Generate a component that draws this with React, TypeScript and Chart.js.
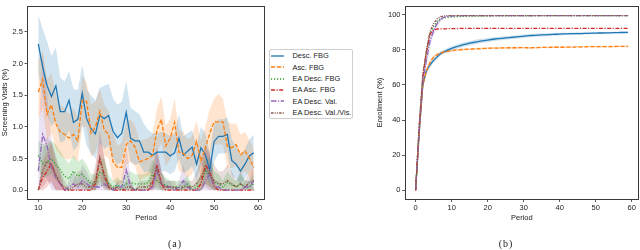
import React, { useEffect, useRef } from "react";
import { Chart, registerables } from "chart.js";

Chart.register(...registerables);

const FONT = "'Liberation Sans', Arial, Helvetica, sans-serif";

// ---------- shared series info ----------
const SERIES_NAMES = ["Desc. FBG", "Asc. FBG", "EA Desc. FBG", "EA Asc. FBG", "EA Desc. Val.", "EA Desc. Val./Vis."];
const COLORS = ["#1f77b4", "#ff7f0e", "#2ca02c", "#d62728", "#9467bd", "#8c564b"];
const BANDS = [
  "rgba(31,119,180,0.2)",
  "rgba(255,127,14,0.2)",
  "rgba(44,160,44,0.2)",
  "rgba(214,39,40,0.2)",
  "rgba(148,103,189,0.2)",
  "rgba(140,86,75,0.2)",
];
const DASHES: number[][] = [[], [4.2, 1.8], [1.2, 1.8], [4, 1.5, 1.2, 1.5], [5.5, 1.5, 1.2, 1.5], [2.5, 1.2, 1, 1.2, 1, 1.2]];

// ---------- (a) Screening visits, periods 10..59 ----------
const LEFT_PERIODS = Array.from({ length: 50 }, (_, i) => 10 + i);
const LEFT_X_TICKS = [10, 20, 30, 40, 50, 60];
const LEFT_Y_TICKS = [0, 0.5, 1.0, 1.5, 2.0, 2.5];

const descFbg = [2.31, 1.95, 1.65, 1.48, 1.65, 1.24, 1.24, 1.42, 1.07, 1.12, 1.53, 1.13, 0.97, 0.89, 1.18, 1.13, 1.18, 0.93, 0.83, 0.9, 1.23, 0.82, 0.78, 0.78, 0.6, 0.6, 0.55, 0.6, 0.6, 0.6, 0.54, 0.59, 0.82, 0.55, 0.62, 0.68, 0.41, 0.67, 0.56, 0.32, 0.77, 0.85, 0.85, 0.88, 0.47, 0.41, 0.3, 0.41, 0.54, 0.59];
const descFbgHi = [2.77, 2.55, 2.35, 2.12, 2.25, 1.78, 1.72, 1.88, 1.6, 1.58, 1.98, 1.6, 1.5, 1.42, 1.62, 1.65, 1.68, 1.45, 1.35, 1.4, 1.72, 1.3, 1.25, 1.2, 1.05, 0.95, 0.9, 0.9, 0.92, 0.9, 0.85, 0.9, 1.2, 0.85, 0.9, 0.95, 0.7, 1.0, 0.9, 0.6, 1.05, 1.12, 1.12, 1.15, 0.8, 0.7, 0.55, 0.65, 0.8, 0.88];
const descFbgLo = [1.85, 1.5, 1.2, 1.0, 1.1, 0.75, 0.78, 0.95, 0.62, 0.7, 1.05, 0.7, 0.58, 0.5, 0.75, 0.65, 0.7, 0.5, 0.4, 0.45, 0.8, 0.45, 0.4, 0.42, 0.28, 0.3, 0.25, 0.3, 0.3, 0.3, 0.25, 0.3, 0.5, 0.28, 0.3, 0.38, 0.15, 0.4, 0.3, 0.08, 0.45, 0.58, 0.58, 0.6, 0.22, 0.18, 0.1, 0.18, 0.3, 0.35];

const ascFbg = [1.55, 1.75, 1.2, 1.35, 1.05, 0.92, 0.88, 0.82, 0.88, 0.78, 1.42, 1.4, 0.9, 1.0, 1.25, 0.95, 0.88, 0.45, 0.36, 0.36, 0.72, 0.78, 0.68, 0.45, 0.47, 0.5, 0.55, 0.95, 1.12, 0.7, 0.82, 1.07, 0.6, 0.58, 0.5, 0.55, 0.77, 0.46, 0.67, 0.9, 1.08, 1.08, 1.08, 0.69, 0.67, 0.72, 0.56, 0.62, 0.51, 0.36];
const ascFbgHi = [2.05, 2.2, 1.75, 1.85, 1.5, 1.35, 1.3, 1.2, 1.3, 1.15, 1.8, 1.7, 1.35, 1.4, 1.6, 1.35, 1.25, 0.9, 0.7, 0.75, 1.08, 1.12, 1.02, 0.78, 0.8, 0.82, 0.88, 1.3, 1.48, 1.02, 1.12, 1.45, 0.95, 0.92, 0.8, 0.85, 1.1, 0.78, 1.0, 1.28, 1.45, 1.52, 1.45, 1.08, 1.05, 1.05, 0.88, 0.92, 0.8, 0.65];
const ascFbgLo = [1.12, 1.3, 0.8, 0.9, 0.65, 0.55, 0.5, 0.48, 0.52, 0.45, 1.0, 1.0, 0.52, 0.6, 0.85, 0.55, 0.5, 0.15, 0.1, 0.1, 0.4, 0.45, 0.38, 0.15, 0.2, 0.22, 0.25, 0.6, 0.75, 0.38, 0.48, 0.72, 0.3, 0.28, 0.2, 0.25, 0.45, 0.18, 0.35, 0.55, 0.72, 0.72, 0.72, 0.35, 0.35, 0.38, 0.25, 0.3, 0.22, 0.1];

const eaDescFbg = [0.55, 0.42, 0.45, 0.5, 0.4, 0.32, 0.22, 0.18, 0.3, 0.22, 0.25, 0.18, 0.1, 0.1, 0.28, 0.25, 0.1, 0.05, 0.08, 0.05, 0.1, 0.12, 0.1, 0.1, 0.1, 0.12, 0.25, 0.15, 0.1, 0.08, 0.05, 0.05, 0.05, 0.05, 0.1, 0.0, 0.05, 0.1, 0.3, 0.25, 0.12, 0.1, 0.05, 0.12, 0.08, 0.05, 0.1, 0.05, 0.05, 0.1];
const eaDescFbgHi = [0.78, 0.72, 0.72, 0.78, 0.72, 0.62, 0.5, 0.42, 0.55, 0.45, 0.5, 0.4, 0.25, 0.25, 0.5, 0.5, 0.25, 0.15, 0.2, 0.15, 0.25, 0.3, 0.25, 0.25, 0.25, 0.3, 0.48, 0.35, 0.28, 0.2, 0.15, 0.15, 0.15, 0.15, 0.25, 0.05, 0.15, 0.25, 0.52, 0.5, 0.3, 0.25, 0.15, 0.3, 0.2, 0.15, 0.25, 0.15, 0.15, 0.25];
const eaDescFbgLo = [0.32, 0.2, 0.22, 0.25, 0.15, 0.1, 0.02, 0, 0.1, 0.05, 0.05, 0, 0, 0, 0.08, 0.05, 0, 0, 0, 0, 0, 0, 0, 0, 0, 0, 0.05, 0, 0, 0, 0, 0, 0, 0, 0, 0, 0, 0, 0.1, 0.05, 0, 0, 0, 0, 0, 0, 0, 0, 0, 0];

const eaAscFbg = [0, 0.2, 0.3, 0.42, 0.2, 0.1, 0, 0, 0, 0, 0, 0, 0, 0.1, 0.5, 0.25, 0.05, 0, 0, 0, 0, 0, 0, 0, 0, 0, 0.1, 0.4, 0.1, 0, 0, 0, 0, 0, 0, 0, 0, 0.1, 0.4, 0.3, 0.05, 0, 0, 0, 0, 0, 0, 0, 0, 0];
const eaAscFbgHi = [0, 0.45, 0.6, 0.75, 0.45, 0.25, 0, 0, 0, 0, 0, 0, 0, 0.3, 0.85, 0.55, 0.15, 0, 0, 0, 0, 0, 0, 0, 0, 0, 0.3, 0.68, 0.3, 0, 0, 0, 0, 0, 0, 0, 0, 0.3, 0.72, 0.6, 0.15, 0, 0, 0, 0, 0, 0, 0, 0, 0];
const eaAscFbgLo = [0, 0, 0.05, 0.15, 0, 0, 0, 0, 0, 0, 0, 0, 0, 0, 0.2, 0.05, 0, 0, 0, 0, 0, 0, 0, 0, 0, 0, 0, 0.15, 0, 0, 0, 0, 0, 0, 0, 0, 0, 0, 0.1, 0.05, 0, 0, 0, 0, 0, 0, 0, 0, 0, 0];

const eaDescVal = [0.3, 0.88, 0.7, 0.35, 0.2, 0.1, 0, 0.05, 0.1, 0.05, 0.15, 0.1, 0.05, 0.05, 0.05, 0.1, 0.05, 0, 0.05, 0.05, 0.32, 0.05, 0, 0, 0, 0, 0.05, 0.3, 0.1, 0.05, 0.05, 0, 0.05, 0.15, 0.05, 0, 0, 0, 0.15, 0.25, 0.05, 0.05, 0, 0, 0, 0, 0, 0.05, 0.05, 0.15];
const eaDescValHi = [0.85, 2.15, 1.5, 0.8, 0.5, 0.3, 0, 0.15, 0.3, 0.15, 0.4, 0.3, 0.15, 0.15, 0.15, 0.3, 0.15, 0, 0.15, 0.15, 0.78, 0.15, 0, 0, 0, 0, 0.15, 0.55, 0.3, 0.15, 0.15, 0, 0.15, 0.4, 0.15, 0, 0, 0, 0.4, 0.55, 0.15, 0.15, 0, 0, 0, 0, 0, 0.15, 0.15, 0.4];
const eaDescValLo = [0, 0.2, 0.2, 0, 0, 0, 0, 0, 0, 0, 0, 0, 0, 0, 0, 0, 0, 0, 0, 0, 0, 0, 0, 0, 0, 0, 0, 0, 0, 0, 0, 0, 0, 0, 0, 0, 0, 0, 0, 0, 0, 0, 0, 0, 0, 0, 0, 0, 0, 0];

const eaDescValVis = [0, 0.3, 0.45, 0.4, 0.25, 0.1, 0.05, 0, 0.05, 0.1, 0.1, 0.05, 0.05, 0.15, 0.52, 0.2, 0.05, 0.02, 0.05, 0, 0.05, 0.05, 0, 0.05, 0.05, 0.05, 0.15, 0.35, 0.1, 0.05, 0.05, 0.05, 0, 0.05, 0.05, 0.05, 0.1, 0.2, 0.35, 0.25, 0.15, 0.1, 0.1, 0.15, 0.1, 0.05, 0.1, 0.05, 0.12, 0.15];
const eaDescValVisHi = [0, 0.6, 0.85, 0.75, 0.55, 0.3, 0.15, 0, 0.15, 0.3, 0.3, 0.15, 0.15, 0.4, 0.95, 0.5, 0.15, 0.05, 0.15, 0, 0.15, 0.15, 0, 0.15, 0.15, 0.15, 0.4, 0.65, 0.3, 0.15, 0.15, 0.15, 0, 0.15, 0.15, 0.15, 0.3, 0.45, 0.68, 0.55, 0.4, 0.3, 0.3, 0.4, 0.3, 0.15, 0.3, 0.15, 0.3, 0.35];
const eaDescValVisLo = [0, 0.05, 0.15, 0.1, 0, 0, 0, 0, 0, 0, 0, 0, 0, 0, 0.15, 0, 0, 0, 0, 0, 0, 0, 0, 0, 0, 0, 0, 0.05, 0, 0, 0, 0, 0, 0, 0, 0, 0, 0, 0.05, 0, 0, 0, 0, 0, 0, 0, 0, 0, 0, 0];

// ---------- (b) Enrollment, periods 0..59 ----------
const RIGHT_PERIODS = Array.from({ length: 60 }, (_, i) => i);
const RIGHT_X_TICKS = [0, 10, 20, 30, 40, 50, 60];
const RIGHT_Y_TICKS = [0, 20, 40, 60, 80, 100];

const enrDescFbg = [0, 33, 60, 68, 71.5, 74, 76, 78, 79, 80, 80.8, 81.5, 82.2, 82.8, 83.3, 83.8, 84.2, 84.6, 85.0, 85.3, 85.6, 85.9, 86.2, 86.4, 86.6, 86.8, 87.0, 87.2, 87.4, 87.6, 87.8, 88.0, 88.2, 88.3, 88.4, 88.5, 88.6, 88.7, 88.8, 88.9, 89.0, 89.1, 89.1, 89.2, 89.2, 89.3, 89.3, 89.4, 89.4, 89.5, 89.5, 89.6, 89.6, 89.7, 89.7, 89.8, 89.8, 89.9, 89.9, 90.0];
const enrDescFbgCi = [0, 2, 2, 1.5, 1.5, 1.2, 1.2, 1.2, 1.2, 1.2, 1.3, 1.3, 1.3, 1.3, 1.3, 1.3, 1.3, 1.3, 1.3, 1.2, 1.2, 1.2, 1.2, 1.1, 1.1, 1.1, 1.1, 1.0, 1.0, 1.0, 1.0, 1.0, 0.9, 0.9, 0.9, 0.9, 0.9, 0.8, 0.8, 0.8, 0.8, 0.8, 0.7, 0.7, 0.7, 0.7, 0.7, 0.6, 0.6, 0.6, 0.6, 0.6, 0.6, 0.5, 0.5, 0.5, 0.5, 0.5, 0.5, 0.5];
const enrAscFbg = [0, 33, 60, 68, 73, 76, 77.3, 78.2, 78.8, 79.2, 79.5, 79.8, 80.0, 80.2, 80.3, 80.4, 80.5, 80.6, 80.7, 80.8, 80.9, 81.0, 81.0, 81.0, 81.1, 81.1, 81.2, 81.2, 81.2, 81.3, 81.3, 81.2, 81.2, 81.3, 81.3, 81.4, 81.4, 81.4, 81.5, 81.5, 81.5, 81.5, 81.6, 81.6, 81.6, 81.7, 81.7, 81.7, 81.8, 81.8, 81.8, 81.8, 81.9, 81.9, 81.9, 81.9, 82.0, 82.0, 82.0, 82.0];
const enrAscFbgCi = [0, 2, 2, 1.5, 1.2, 1.0, 0.9, 0.8, 0.8, 0.7, 0.7, 0.7, 0.7, 0.7, 0.6, 0.6, 0.6, 0.6, 0.6, 0.6, 0.6, 0.6, 0.6, 0.6, 0.6, 0.6, 0.6, 0.6, 0.6, 0.6, 0.5, 0.5, 0.5, 0.5, 0.5, 0.5, 0.5, 0.5, 0.5, 0.5, 0.5, 0.5, 0.5, 0.5, 0.5, 0.5, 0.5, 0.5, 0.5, 0.5, 0.5, 0.5, 0.5, 0.5, 0.5, 0.5, 0.5, 0.5, 0.5, 0.5];
const enrEaDescFbg = [0, 37, 66, 78, 89, 93.5, 96.2, 97.6, 98.2, 98.5, 98.7, 98.9, 99.0, 99.1, 99.1, 99.2, 99.2, 99.2, 99.3, 99.3, 99.3, 99.3, 99.4, 99.4, 99.4, 99.4, 99.4, 99.4, 99.4, 99.4, 99.4, 99.4, 99.4, 99.4, 99.5, 99.5, 99.5, 99.5, 99.5, 99.5, 99.5, 99.5, 99.5, 99.5, 99.5, 99.5, 99.5, 99.5, 99.5, 99.5, 99.5, 99.5, 99.5, 99.5, 99.5, 99.5, 99.5, 99.5, 99.5, 99.5];
const enrEaAscFbg = [0, 36, 64, 79, 89, 91.4, 91.9, 92.0, 92.0, 92.1, 92.1, 92.1, 92.2, 92.2, 92.2, 92.2, 92.2, 92.2, 92.2, 92.3, 92.3, 92.3, 92.3, 92.3, 92.3, 92.3, 92.3, 92.3, 92.3, 92.3, 92.3, 92.3, 92.3, 92.3, 92.3, 92.3, 92.3, 92.3, 92.3, 92.3, 92.3, 92.3, 92.3, 92.3, 92.3, 92.3, 92.3, 92.3, 92.3, 92.3, 92.3, 92.3, 92.3, 92.3, 92.3, 92.3, 92.3, 92.3, 92.3, 92.3];
const enrEaDescVal = [0, 34, 62, 74, 85, 91, 95, 97.5, 98.7, 99.1, 99.3, 99.4, 99.4, 99.5, 99.5, 99.5, 99.5, 99.5, 99.5, 99.5, 99.5, 99.5, 99.5, 99.5, 99.5, 99.5, 99.5, 99.5, 99.5, 99.5, 99.5, 99.5, 99.5, 99.5, 99.5, 99.5, 99.5, 99.5, 99.5, 99.5, 99.5, 99.5, 99.5, 99.5, 99.5, 99.5, 99.5, 99.5, 99.5, 99.5, 99.5, 99.5, 99.5, 99.5, 99.5, 99.5, 99.5, 99.5, 99.5, 99.5];
const enrEaDescValCi = [0, 2, 2.5, 3, 3, 2.5, 2, 1.2, 0.6, 0.4, 0.3, 0.2, 0.2, 0.2, 0.2, 0.2, 0.2, 0.2, 0.2, 0.2, 0.2, 0.2, 0.2, 0.2, 0.2, 0.2, 0.2, 0.2, 0.2, 0.2, 0.2, 0.2, 0.2, 0.2, 0.2, 0.2, 0.2, 0.2, 0.2, 0.2, 0.2, 0.2, 0.2, 0.2, 0.2, 0.2, 0.2, 0.2, 0.2, 0.2, 0.2, 0.2, 0.2, 0.2, 0.2, 0.2, 0.2, 0.2, 0.2, 0.2];
const enrEaDescValVis = [0, 37, 66, 80, 90.5, 95, 97.8, 99.0, 99.4, 99.5, 99.5, 99.5, 99.5, 99.5, 99.5, 99.5, 99.5, 99.5, 99.5, 99.5, 99.5, 99.5, 99.5, 99.5, 99.5, 99.5, 99.5, 99.5, 99.5, 99.5, 99.5, 99.5, 99.5, 99.5, 99.5, 99.5, 99.5, 99.5, 99.5, 99.5, 99.5, 99.5, 99.5, 99.5, 99.5, 99.5, 99.5, 99.5, 99.5, 99.5, 99.5, 99.5, 99.5, 99.5, 99.5, 99.5, 99.5, 99.5, 99.5, 99.5];

// ---------- helpers ----------
const pts = (xs: number[], ys: number[]) => xs.map((x, i) => ({ x, y: ys[i] }));

const framePlugin = {
  id: "frame",
  afterDraw(chart: any) {
    const { ctx, chartArea } = chart;
    const l = Math.floor(chartArea.left) + 0.5;
    const t = Math.floor(chartArea.top) + 0.5;
    const r = Math.floor(chartArea.right) + 0.5;
    const b = Math.floor(chartArea.bottom) + 0.5;
    ctx.save();
    ctx.strokeStyle = "#3a3a3a";
    ctx.lineWidth = 1;
    ctx.strokeRect(l, t, r - l, b - t);
    ctx.restore();
  },
};

function lineDs(label: string, xs: number[], ys: number[], k: number) {
  return {
    label,
    data: pts(xs, ys),
    borderColor: COLORS[k],
    backgroundColor: COLORS[k],
    borderWidth: 1.3,
    borderDash: DASHES[k],
    pointRadius: 0,
    fill: false,
    tension: 0,
    order: 6 - k,
  };
}

function bandDs(xs: number[], hi: number[], lo: number[], k: number) {
  return [
    {
      label: "hi" + k,
      data: pts(xs, hi),
      borderWidth: 0,
      borderColor: "rgba(0,0,0,0)",
      backgroundColor: BANDS[k],
      pointRadius: 0,
      fill: "+1",
      tension: 0,
      order: 20,
    },
    {
      label: "lo" + k,
      data: pts(xs, lo),
      borderWidth: 0,
      borderColor: "rgba(0,0,0,0)",
      pointRadius: 0,
      fill: false,
      tension: 0,
      order: 20,
    },
  ];
}

function axisCommon(ticksList: number[], fmt: (v: number) => string) {
  return {
    type: "linear" as const,
    afterBuildTicks: (s: any) => {
      s.ticks = ticksList.map((v) => ({ value: v }));
    },
    grid: { drawOnChartArea: false, drawTicks: true, tickLength: 3, color: "#333", lineWidth: 0.8 },
    border: { display: false },
    ticks: {
      font: { family: FONT, size: 7.5 },
      color: "#222",
      padding: 1.5,
      maxRotation: 0,
      autoSkip: false,
      callback: (v: any) => fmt(Number(v)),
    },
  };
}

function useChart(ref: React.RefObject<HTMLCanvasElement>, build: () => any) {
  useEffect(() => {
    if (!ref.current) return;
    const chart = new Chart(ref.current, build());
    return () => chart.destroy();
  }, []);
}

function leftConfig() {
  const means = [descFbg, ascFbg, eaDescFbg, eaAscFbg, eaDescVal, eaDescValVis];
  const his = [descFbgHi, ascFbgHi, eaDescFbgHi, eaAscFbgHi, eaDescValHi, eaDescValVisHi];
  const los = [descFbgLo, ascFbgLo, eaDescFbgLo, eaAscFbgLo, eaDescValLo, eaDescValVisLo];
  const datasets: any[] = means.map((m, k) => lineDs(SERIES_NAMES[k], LEFT_PERIODS, m, k));
  for (let k = 0; k < 6; k++) datasets.push(...bandDs(LEFT_PERIODS, his[k], los[k], k));
  return {
    type: "line",
    data: { datasets },
    plugins: [framePlugin],
    options: {
      animation: false,
      responsive: false,
      events: [],
      layout: { padding: { left: 0, top: 1, right: 7.5, bottom: 0 } },
      plugins: { legend: { display: false }, tooltip: { enabled: false } },
      scales: {
        x: {
          ...axisCommon(LEFT_X_TICKS, (v) => String(v)),
          min: 7.55,
          max: 61.45,
          afterFit: (s: any) => {
            s.height = 51;
          },
          title: {
            display: true,
            text: "Period",
            color: "#222",
            font: { family: FONT, size: 7.5, lineHeight: 1.2 },
            padding: { top: 0, bottom: 27.5 },
          },
        },
        y: {
          ...axisCommon(LEFT_Y_TICKS, (v) => v.toFixed(1)),
          min: -0.14,
          max: 2.91,
          afterFit: (s: any) => {
            s.width = 27.5;
          },
          title: {
            display: true,
            text: "Screening Visits (%)",
            color: "#222",
            font: { family: FONT, size: 7.5, lineHeight: 1.2 },
            padding: { top: 0, bottom: 0 },
          },
        },
      },
    },
  };
}

function rightConfig() {
  const means = [enrDescFbg, enrAscFbg, enrEaDescFbg, enrEaAscFbg, enrEaDescVal, enrEaDescValVis];
  const datasets: any[] = means.map((m, k) => lineDs(SERIES_NAMES[k], RIGHT_PERIODS, m, k));
  const ciSets: [number, number[], number[]][] = [
    [0, enrDescFbg, enrDescFbgCi],
    [1, enrAscFbg, enrAscFbgCi],
    [4, enrEaDescVal, enrEaDescValCi],
  ];
  for (const [k, m, ci] of ciSets) {
    datasets.push(
      ...bandDs(
        RIGHT_PERIODS,
        m.map((v, i) => v + ci[i]),
        m.map((v, i) => v - ci[i]),
        k
      )
    );
  }
  return {
    type: "line",
    data: { datasets },
    plugins: [framePlugin],
    options: {
      animation: false,
      responsive: false,
      events: [],
      layout: { padding: { left: 0, top: 3, right: 1.3, bottom: 0 } },
      plugins: { legend: { display: false }, tooltip: { enabled: false } },
      scales: {
        x: {
          ...axisCommon(RIGHT_X_TICKS, (v) => String(v)),
          min: -2.95,
          max: 61.95,
          afterFit: (s: any) => {
            s.height = 51;
          },
          title: {
            display: true,
            text: "Period",
            color: "#222",
            font: { family: FONT, size: 7.5, lineHeight: 1.2 },
            padding: { top: 0, bottom: 28 },
          },
        },
        y: {
          ...axisCommon(RIGHT_Y_TICKS, (v) => String(v)),
          min: -5,
          max: 105,
          afterFit: (s: any) => {
            s.width = 37;
          },
          title: {
            display: true,
            text: "Enrollment (%)",
            color: "#222",
            font: { family: FONT, size: 7.5, lineHeight: 1.2 },
            padding: { top: 7.5, bottom: 0 },
          },
        },
      },
    },
  };
}

function LegendSample({ k }: { k: number }) {
  return (
    <svg width={13} height={4} style={{ display: "block" }}>
      <line
        x1={0}
        y1={2}
        x2={13}
        y2={2}
        stroke={COLORS[k]}
        strokeWidth={1.3}
        strokeDasharray={DASHES[k].length ? DASHES[k].join(" ") : undefined}
      />
    </svg>
  );
}

export default function App() {
  const leftRef = useRef<HTMLCanvasElement>(null);
  const rightRef = useRef<HTMLCanvasElement>(null);
  useChart(leftRef, leftConfig);
  useChart(rightRef, rightConfig);

  const rowTops = [55.7, 67.1, 78.5, 89.9, 101.3, 112.7];

  return (
    <div style={{ position: "fixed", left: 0, top: 0, width: 640, height: 250, background: "#fff", overflow: "hidden" }}>
      <canvas ref={leftRef} width={272} height={250} style={{ position: "absolute", left: 0, top: 0 }} />
      <canvas ref={rightRef} width={272} height={250} style={{ position: "absolute", left: 368, top: 0 }} />

      <div
        style={{
          position: "absolute",
          left: 269,
          top: 49,
          width: 84,
          height: 70,
          border: "1px solid #d0d0d0",
          borderRadius: 2,
          background: "#fff",
          boxSizing: "border-box",
        }}
      />
      {SERIES_NAMES.map((name, k) => (
        <div
          key={name}
          style={{
            position: "absolute",
            left: 271,
            top: rowTops[k] - 5,
            height: 10,
            display: "flex",
            alignItems: "center",
            fontFamily: FONT,
            fontSize: 7.4,
            color: "#222",
            whiteSpace: "nowrap",
          }}
        >
          <LegendSample k={k} />
          <span style={{ marginLeft: 8.5 }}>{name}</span>
        </div>
      ))}

      <div
        style={{
          position: "absolute",
          left: 145,
          width: 60,
          top: 238,
          textAlign: "center",
          fontFamily: "'Liberation Serif', 'DejaVu Serif', serif",
          fontSize: 10,
          letterSpacing: 1,
          color: "#222",
        }}
      >
        (a)
      </div>
      <div
        style={{
          position: "absolute",
          left: 476,
          width: 60,
          top: 238,
          textAlign: "center",
          fontFamily: "'Liberation Serif', 'DejaVu Serif', serif",
          fontSize: 10,
          letterSpacing: 1,
          color: "#222",
        }}
      >
        (b)
      </div>
    </div>
  );
}
